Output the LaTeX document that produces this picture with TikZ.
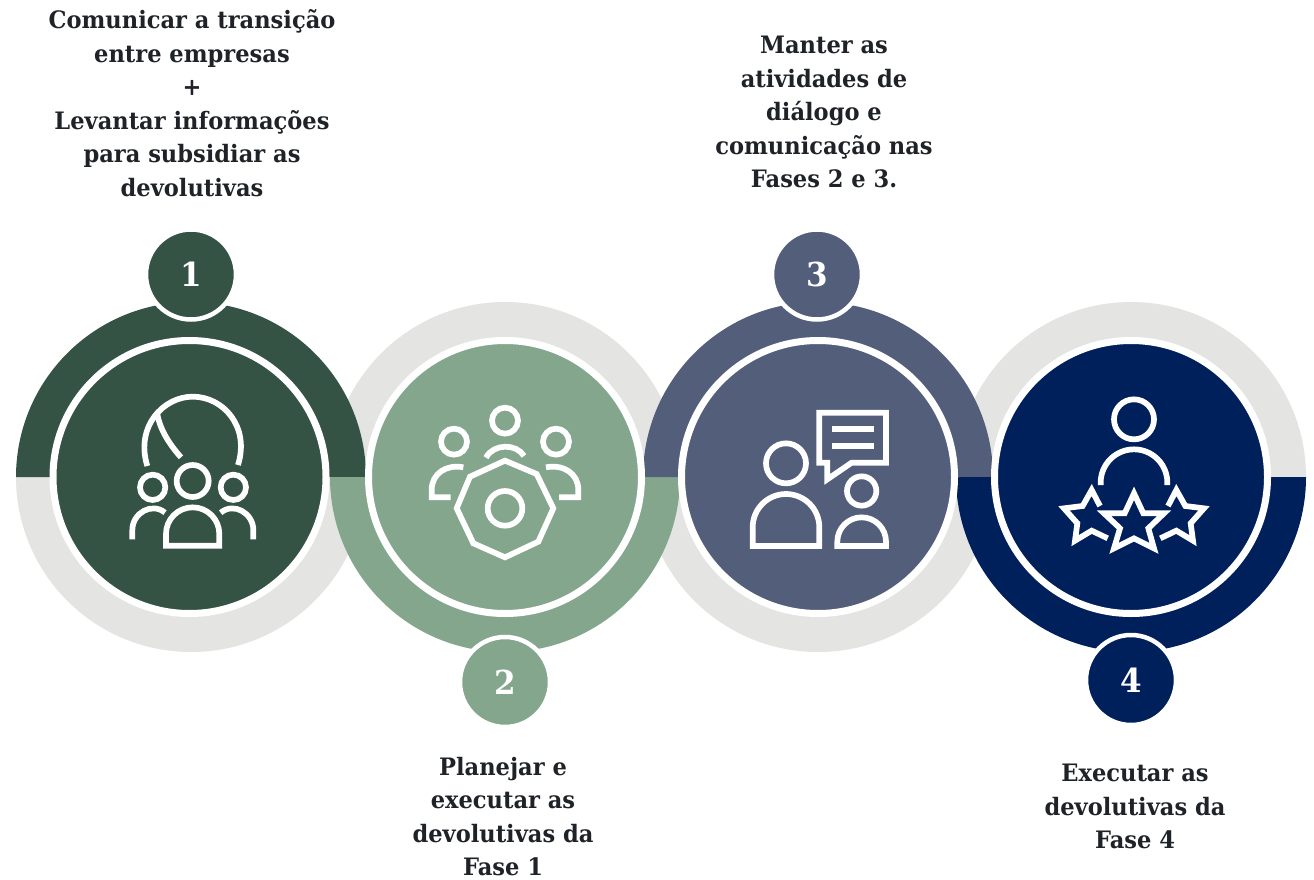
\documentclass[tikz,border=0pt]{standalone}
\usepackage{fontspec}
\setmainfont{DejaVu Serif}[FakeStretch=0.94]
\definecolor{cA}{HTML}{345344}
\definecolor{cB}{HTML}{84A68D}
\definecolor{cC}{HTML}{535E7B}
\definecolor{cD}{HTML}{00205B}
\definecolor{cG}{HTML}{E4E4E2}
\definecolor{cT}{HTML}{1F2328}
\tikzset{x=1pt,y=-1pt,
 lab/.style={align=center,font=\bfseries\fontsize{24}{33.5}\selectfont,text=cT,inner sep=0pt},
 num/.style={circle,draw=white,line width=4.5pt,minimum size=90pt,inner sep=0pt,text=white,font=\bfseries\fontsize{33}{33}\selectfont},
 disc/.style={circle,draw=white,line width=7pt,minimum size=273pt,inner sep=0pt},
 ic/.style={draw=white,line width=5.7pt,fill=none,line join=miter},
 zoomed/.style={scale=1/3}}
\newcommand{\halfup}[2]{\fill[#2] (#1-175,477) arc[start angle=180,end angle=360,radius=175] -- cycle;}
\newcommand{\halfdn}[2]{\fill[#2] (#1-175,477) arc[start angle=180,end angle=0,radius=175] -- cycle;}
\begin{document}
\begin{tikzpicture}
\useasboundingbox (0,0) rectangle (1314,880);
\fill[white] (0,0) rectangle (1314,880);
% grey halves
\halfdn{191}{cG}\halfup{505}{cG}\halfdn{818}{cG}\halfup{1131}{cG}
% coloured halves
\halfup{191}{cA}\halfdn{505}{cB}\halfup{818}{cC}\halfdn{1131}{cD}
% discs
\node[disc,fill=cA] (d1) at (189.5,477) {};
\node[disc,fill=cB] (d2) at (505,477) {};
\node[disc,fill=cC] (d3) at (818,477) {};
\node[disc,fill=cD] (d4) at (1131,477) {};
% badges
\node[num,fill=cA] (n1) at (191,274.5) {1};
\node[num,fill=cB] (n2) at (505,682) {2};
\node[num,fill=cC] (n3) at (817,274.5) {3};
\node[num,fill=cD] (n4) at (1131,680) {4};
% labels
\node[lab] (t1) at (192,103) {Comunicar a transição\\entre empresas\\+\\Levantar informações\\para subsidiar as\\devolutivas};
\node[lab] (t2) at (503,816.5) {Planejar e\\executar as\\devolutivas da\\Fase 1};
\node[lab] (t3) at (824,112) {Manter as\\atividades de\\diálogo e\\comunicação nas\\Fases 2 e 3.};
\node[lab] (t4) at (1135,806.5) {Executar as\\devolutivas da\\Fase 4};
% icon 1
\begin{scope}[shift={(100,370)},zoomed]
\draw[ic] (142,288) .. controls (105,170) and (190,80) .. (278,80) .. controls (370,80) and (450,170) .. (414,285);
\draw[ic] (172,132) .. controls (180,180) and (210,225) .. (243,262);
\draw[ic] (278,333) circle[radius=48];
\draw[ic] (158,352) circle[radius=38];
\draw[ic] (400,352) circle[radius=38];
\draw[ic] (198,527) -- (198,492) arc[start angle=180,end angle=360,radius=80] -- (358,527) -- cycle;
\draw[ic] (97,508) -- (97,480) .. controls (97,430) and (155,395) .. (195,428);
\draw[ic] (460,508) -- (460,480) .. controls (460,430) and (402,395) .. (362,428);
\end{scope}
% icon 2
\begin{scope}[shift={(410,390)},zoomed]
\draw[ic] (285,92) circle[radius=39];
\draw[ic] (132,155) circle[radius=39];
\draw[ic] (438,155) circle[radius=39];
\draw[ic] (228,203) .. controls (250,160) and (320,160) .. (342,198);
\draw[ic] (160,232) .. controls (110,222) and (65,250) .. (65,300) -- (65,322) -- (122,322);
\draw[ic] (408,232) .. controls (460,222) and (505,250) .. (505,300) -- (505,322) -- (447,322);
\draw[ic] (285,212) -- (380,252) -- (430,355) -- (385,455) -- (285,502) -- (190,460) -- (140,355) -- (180,260) -- cycle;
\draw[ic] (285,355) circle[radius=52];
\end{scope}
% icon 3
\begin{scope}[shift={(730,390)},zoomed]
\draw[ic] (168,220) circle[radius=60];
\draw[ic] (68,468) -- (68,412) arc[start angle=180,end angle=360,radius=100] -- (268,468) -- cycle;
\draw[ic] (395,303) circle[radius=44];
\draw[ic] (322,468) -- (322,455) arc[start angle=180,end angle=360,radius=73] -- (468,468) -- cycle;
\draw[ic] (268,68) -- (468,68) -- (468,218) -- (365,218) -- (292,268) -- (292,218) -- (268,218) -- cycle;
\draw[ic] (305,117) -- (432,117);
\draw[ic] (305,167) -- (432,167);
\end{scope}
% icon 4
\begin{scope}[shift={(1040,380)},zoomed]
\draw[ic] (282,118) circle[radius=60];
\draw[ic] (182,315) -- (182,308) arc[start angle=180,end angle=360,radius=100] -- (382,315);
\draw[ic] (282,340) -- (310,400) -- (372,400) -- (325,445) -- (342,505) -- (282,475) -- (222,505) -- (240,445) -- (192,400) -- (254,400) -- cycle;
\draw[ic] (180,378) -- (155,330) -- (128,378) -- (72,385) -- (112,430) -- (105,482) -- (155,452) -- (203,475);
\draw[ic] (384,378) -- (409,330) -- (436,378) -- (492,385) -- (452,430) -- (459,482) -- (409,452) -- (361,475);
\end{scope}
\end{tikzpicture}
\end{document}
